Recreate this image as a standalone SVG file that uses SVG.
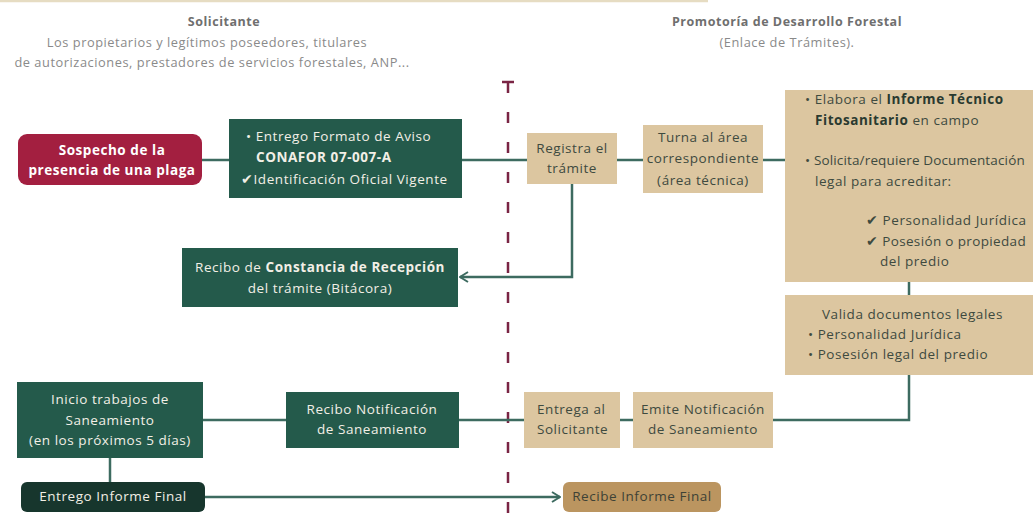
<svg xmlns="http://www.w3.org/2000/svg" width="1033" height="523" viewBox="0 0 1033 523">
<style>
text{font-family:"Open Sans","Noto Sans","Liberation Sans",sans-serif;font-size:13.5px;letter-spacing:0.55px}
.hd{fill:#6f6f6f;font-weight:bold;font-size:12.5px}
.sub{fill:#8a8a8a;font-size:12.8px}
.g{fill:#245a4b}
.t{fill:#dcc6a0}
.wt{fill:#f2efe6}
.dk{fill:#3e4a3f}
.b{font-weight:bold}
.c{text-anchor:middle}
.ln{fill:none;stroke:#3d6b60;stroke-width:2.5}
</style>
<defs>
<marker id="arr" viewBox="0 0 10 12" refX="9" refY="6" markerWidth="10" markerHeight="12" markerUnits="userSpaceOnUse" orient="auto">
<path d="M1 1 L9 6 L1 11" fill="none" stroke="#3d6b60" stroke-width="2"/>
</marker>
</defs>
<rect width="1033" height="523" fill="#ffffff"/>
<line x1="0" y1="1" x2="708" y2="1" stroke="#e6dcc2" stroke-width="2.5"/>
<g id="headers">
<text class="hd c" x="224" y="26">Solicitante</text>
<text class="sub c" x="207" y="47">Los propietarios y legítimos poseedores, titulares</text>
<text class="sub c" x="212" y="67">de autorizaciones, prestadores de servicios forestales, ANP...</text>
<text class="hd c" x="787" y="26">Promotoría de Desarrollo Forestal</text>
<text class="sub c" x="787" y="47">(Enlace de Trámites).</text>
</g>
<g id="divider">
<line x1="502" y1="82" x2="514" y2="82" stroke="#7a2444" stroke-width="2.5"/>
<line x1="508" y1="82" x2="508" y2="523" stroke="#7a2444" stroke-width="2.5" stroke-dasharray="11 19"/>
</g>
<g id="connectors">
<line class="ln" x1="202" y1="160" x2="229" y2="160"/>
<line class="ln" x1="462" y1="160" x2="527" y2="160"/>
<line class="ln" x1="617" y1="160" x2="643" y2="160"/>
<line class="ln" x1="763" y1="160" x2="785" y2="160"/>
<polyline class="ln" points="572,184 572,277 460,277" marker-end="url(#arr)"/>
<line class="ln" x1="909" y1="282" x2="909" y2="295"/>
<polyline class="ln" points="909,375 909,420 773,420"/>
<line class="ln" x1="620" y1="420" x2="633" y2="420"/>
<line class="ln" x1="459" y1="420" x2="524" y2="420"/>
<line class="ln" x1="203" y1="420" x2="286" y2="420"/>
<line class="ln" x1="110" y1="458" x2="110" y2="482"/>
<line class="ln" x1="205" y1="497" x2="560" y2="497" marker-end="url(#arr)"/>
</g>
<g id="n-sospecho">
<rect x="18" y="134" width="184" height="51" rx="9" fill="#a31f40"/>
<text class="c b" x="112" y="155" fill="#ffffff">Sospecho de la</text>
<text class="c b" x="112" y="175" fill="#ffffff">presencia de una plaga</text>
</g>
<g id="n-entrego-formato">
<rect class="g" x="229" y="119" width="233" height="79"/>
<text class="wt" x="246" y="141">• Entrego Formato de Aviso</text>
<text class="wt b" x="256" y="162">CONAFOR 07-007-A</text>
<text class="wt" x="241" y="184">✔Identificación Oficial Vigente</text>
</g>
<g id="n-constancia">
<rect class="g" x="182" y="248" width="276" height="59"/>
<text class="wt c" x="320" y="272">Recibo de <tspan class="b">Constancia de Recepción</tspan></text>
<text class="wt c" x="320" y="293">del trámite (Bitácora)</text>
</g>
<g id="n-registra">
<rect class="t" x="527" y="133" width="90" height="51"/>
<text class="dk c" x="572" y="153">Registra el</text>
<text class="dk c" x="572" y="173">trámite</text>
</g>
<g id="n-turna">
<rect class="t" x="643" y="125" width="120" height="68"/>
<text class="dk c" x="703" y="142">Turna al área</text>
<text class="dk c" x="703" y="163">correspondiente</text>
<text class="dk c" x="703" y="185">(área técnica)</text>
</g>
<g id="n-informe-tecnico">
<rect class="t" x="785" y="90" width="250" height="192"/>
<text class="dk" x="805" y="104">• Elabora el <tspan class="b" fill="#2a3a30">Informe Técnico</tspan></text>
<text class="dk" x="815" y="125"><tspan class="b" fill="#2a3a30">Fitosanitario</tspan> en campo</text>
<text class="dk" x="805" y="165" style="letter-spacing:0.15px">• Solicita/requiere Documentación</text>
<text class="dk" x="815" y="186">legal para acreditar:</text>
<text class="dk" x="866" y="225">✔ Personalidad Jurídica</text>
<text class="dk" x="866" y="246" style="letter-spacing:0.35px">✔ Posesión o propiedad</text>
<text class="dk" x="880" y="266">del predio</text>
</g>
<g id="n-valida">
<rect class="t" x="785" y="295" width="250" height="80"/>
<text class="dk" x="822" y="319">Valida documentos legales</text>
<text class="dk" x="808" y="339">• Personalidad Jurídica</text>
<text class="dk" x="808" y="359">• Posesión legal del predio</text>
</g>
<g id="n-emite">
<rect class="t" x="633" y="392" width="140" height="56"/>
<text class="dk c" x="703" y="414">Emite Notificación</text>
<text class="dk c" x="703" y="434">de Saneamiento</text>
</g>
<g id="n-entrega">
<rect class="t" x="524" y="392" width="96" height="56"/>
<text class="dk" x="537" y="414">Entrega al</text>
<text class="dk" x="537" y="434">Solicitante</text>
</g>
<g id="n-recibo-notif">
<rect class="g" x="286" y="392" width="173" height="56"/>
<text class="wt c" x="372" y="414">Recibo Notificación</text>
<text class="wt c" x="372" y="434">de Saneamiento</text>
</g>
<g id="n-inicio">
<rect class="g" x="17" y="382" width="186" height="76"/>
<text class="wt c" x="110" y="404">Inicio trabajos de</text>
<text class="wt c" x="110" y="425">Saneamiento</text>
<text class="wt c" x="110" y="445">(en los próximos 5 días)</text>
</g>
<g id="n-entrego-final">
<rect x="21" y="482" width="184" height="30" rx="6" fill="#17362d"/>
<text class="wt c" x="113" y="501">Entrego Informe Final</text>
</g>
<g id="n-recibe-final">
<rect x="563" y="482" width="158" height="30" rx="6" fill="#bb9560"/>
<text class="c" x="642" y="501" fill="#3e4236">Recibe Informe Final</text>
</g>
</svg>
